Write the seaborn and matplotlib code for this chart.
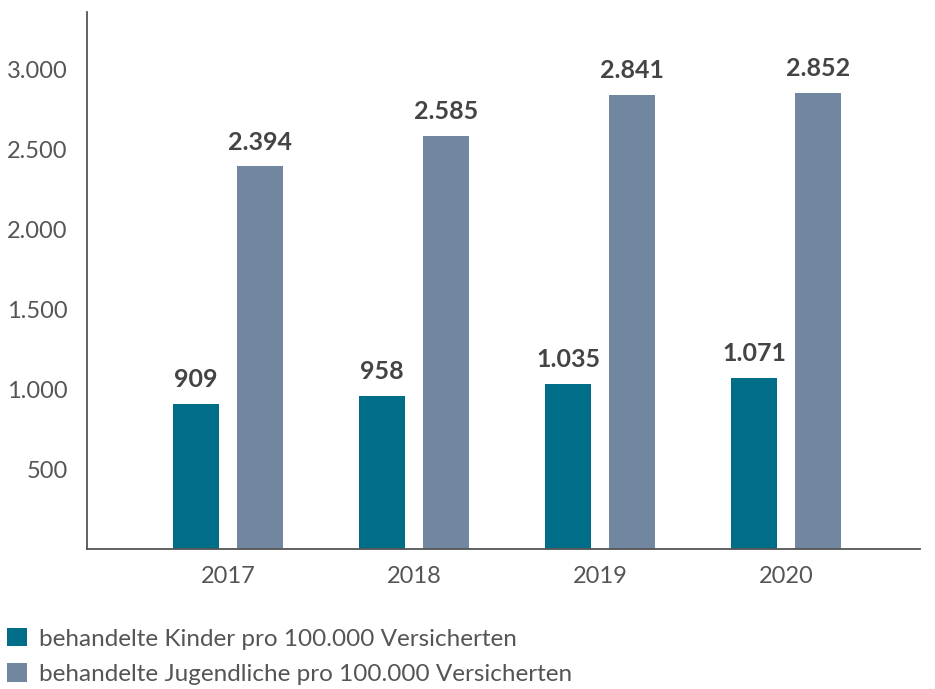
import pandas as pd
import matplotlib
matplotlib.use("Agg")
import matplotlib.pyplot as plt
import seaborn as sns
from matplotlib.patches import Patch

# ==========================
# DATA
# ==========================

years = ["2017", "2018", "2019", "2020"]
kinder = [909, 958, 1035, 1071]
jugendliche = [2394, 2585, 2841, 2852]
series_names = [
    "behandelte Kinder pro 100.000 Versicherten",
    "behandelte Jugendliche pro 100.000 Versicherten",
]
y_ticks = [500, 1000, 1500, 2000, 2500, 3000]

colors = ["#006E88", "#71879F"]
text_color = "#555555"
label_color = "#444444"

df = pd.DataFrame({
    "Jahr": years * 2,
    "Wert": kinder + jugendliche,
    "Gruppe": [series_names[0]] * 4 + [series_names[1]] * 4,
})


def de_format(v):
    return f"{v:,.0f}".replace(",", ".")


# ==========================
# PLOT
# ==========================

sns.set_style("white")
plt.rcParams["font.family"] = ["Lato", "DejaVu Sans"]

fig = plt.figure(figsize=(9.35, 6.89), dpi=100)
ax = fig.add_axes([0.093, 0.203, 0.891, 0.780])

sns.barplot(
    data=df,
    x="Jahr",
    y="Wert",
    hue="Gruppe",
    palette=colors,
    width=0.69,
    gap=0.28,
    saturation=1,
    linewidth=0,
    legend=False,
    ax=ax,
)

for container in ax.containers:
    ax.bar_label(
        container,
        labels=[de_format(v) for v in container.datavalues],
        padding=9,
        fontsize=18,
        fontweight="bold",
        color=label_color,
    )

ax.set_xlim(-0.76, 3.72)
ax.set_ylim(0, 3360)
ax.set_yticks(y_ticks)
ax.set_yticklabels([de_format(v) for v in y_ticks])
ax.set_xlabel("")
ax.set_ylabel("")

sns.despine(ax=ax)
for side in ["left", "bottom"]:
    ax.spines[side].set_color("#555555")
    ax.spines[side].set_linewidth(1.3)

ax.tick_params(axis="y", direction="in", length=16, width=1.3,
               color="#555555", labelsize=17, labelcolor=text_color, pad=14)
ax.tick_params(axis="x", length=0, labelsize=17, labelcolor=text_color, pad=12)

handles = [Patch(facecolor=c, edgecolor="none") for c in colors]
fig.legend(
    handles,
    series_names,
    loc="lower left",
    bbox_to_anchor=(-0.008, -0.015),
    frameon=False,
    fontsize=17.5,
    labelcolor=text_color,
    handlelength=0.8,
    handleheight=0.8,
    handletextpad=0.5,
    labelspacing=0.55,
    borderaxespad=0.2,
)

plt.savefig("out.png", dpi=100)
